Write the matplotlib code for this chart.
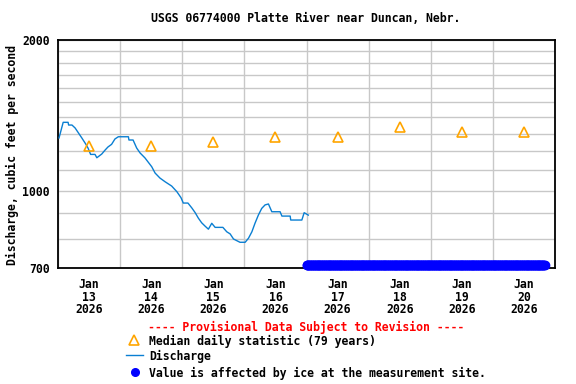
"""
Streamflow plot for USGS 06774000 Platte River near Duncan, Nebr.
"""

import numpy as np
import matplotlib
matplotlib.use("Agg")
import matplotlib.pyplot as plt
from matplotlib.lines import Line2D
from matplotlib.ticker import FixedLocator, NullFormatter

# hours since Jan 13 2026 00:00
discharge_hours = [0.4, 2.0, 3.9, 4.1, 5.4, 6.6, 9.2, 10.7, 11.6, 12.6, 14.3, 15.0,
                   16.9, 18.2, 19.3, 20.7, 22.0, 23.3, 27.2, 27.4, 29.0, 30.4, 31.7,
                   33.6, 36.2, 37.5, 39.4, 41.4, 43.9, 45.9, 47.5, 48.4, 50.2, 51.7,
                   53.0, 54.2, 55.5, 56.8, 58.1, 59.4, 60.7, 63.7, 65.2, 66.5, 67.8,
                   70.3, 72.3, 73.6, 74.9, 76.1, 77.4, 78.7, 80.0, 81.3, 82.6, 85.8,
                   86.5, 89.7, 89.9, 94.2, 95.1, 96.7]
discharge_cfs = [1274, 1369, 1369, 1352, 1352, 1334, 1274, 1239, 1216, 1181, 1181, 1163,
                 1183, 1205, 1222, 1237, 1268, 1281, 1281, 1262, 1262, 1216, 1189,
                 1162, 1116, 1084, 1059, 1041, 1021, 995, 968, 944, 944, 923,
                 903, 881, 862, 849, 837, 860, 844, 844, 827, 819, 800,
                 788, 788, 803, 827, 860, 893, 921, 936, 940, 907, 907,
                 889, 889, 873, 873, 903, 893]

# median daily statistic, plotted at noon of each day
median_days = [0, 1, 2, 3, 4, 5, 6, 7]
median_cfs = [1230, 1230, 1250, 1280, 1280, 1337, 1310, 1310]

day_labels = ["Jan\n13\n2026", "Jan\n14\n2026", "Jan\n15\n2026", "Jan\n16\n2026",
              "Jan\n17\n2026", "Jan\n18\n2026", "Jan\n19\n2026", "Jan\n20\n2026"]

# ice-affected period (hours), recorded every 15 minutes
ice_start_hour = 96.0
ice_end_hour = 188.0
ice_plot_value = 710

ytick_major = [700, 1000, 2000]
ytick_minor = [800, 900, 1100, 1200, 1300, 1400, 1500, 1600, 1700, 1800, 1900]

FONT = {"family": "DejaVu Sans Mono", "weight": "bold", "size": 8.3}
LINE_BLUE = "#0a7fd2"
ORANGE = "#ffa500"
ICE_BLUE = "#0000ff"
GRID = "#c8c8c8"

fig = plt.figure(figsize=(5.76, 3.84), dpi=100)
ax = fig.add_axes([58 / 576, 1 - 268 / 384, 497 / 576, 228 / 384])

ax.set_yscale("log")
ax.set_ylim(700, 2000)
ax.set_xlim(0, 8)

ax.yaxis.set_major_locator(FixedLocator(ytick_major))
ax.yaxis.set_minor_locator(FixedLocator(ytick_minor))
ax.yaxis.set_minor_formatter(NullFormatter())
ax.set_yticklabels([str(v) for v in ytick_major], fontdict=FONT)

ax.xaxis.set_major_locator(FixedLocator(np.arange(0, 9)))
ax.xaxis.set_major_formatter(NullFormatter())
ax.set_xticks(np.array(median_days) + 0.5, minor=True)
ax.set_xticklabels(day_labels, minor=True, fontdict=FONT, linespacing=0.98)

ax.tick_params(axis="both", which="both", length=0)
ax.tick_params(axis="y", which="major", pad=6)
ax.tick_params(axis="x", which="minor", pad=7)

ax.grid(True, which="both", axis="y", color=GRID, linewidth=1.0)
ax.grid(True, which="major", axis="x", color=GRID, linewidth=1.0)
ax.set_axisbelow(True)

for spine in ax.spines.values():
    spine.set_color("black")
    spine.set_linewidth(1.3)

x_days = np.array(discharge_hours) / 24.0
ax.plot(x_days, discharge_cfs, color=LINE_BLUE, linewidth=1.0, zorder=3)

ax.plot(np.array(median_days) + 0.5, median_cfs, linestyle="none", marker="^",
        markersize=7.5, markerfacecolor="none", markeredgecolor=ORANGE,
        markeredgewidth=1.2, zorder=4)

ice_hours = np.arange(ice_start_hour, ice_end_hour + 0.01, 0.25)
ax.plot(ice_hours / 24.0, np.full(len(ice_hours), ice_plot_value), linestyle="none",
        marker="o", markersize=6, color=ICE_BLUE, clip_on=False, zorder=5)

fig.text(12 / 576, 1 - 155 / 384, "Discharge, cubic feet per second",
         rotation=90, ha="center", va="center", **FONT)
fig.text(306 / 576, 1 - 19 / 384, "USGS 06774000 Platte River near Duncan, Nebr.",
         ha="center", va="center", **FONT)

# legend block below the axes
fig.text(306 / 576, 1 - 327 / 384, "---- Provisional Data Subject to Revision ----",
         ha="center", va="center", color="red", **FONT)

legend_rows = [
    (341, "Median daily statistic (79 years)"),
    (356, "Discharge"),
    (373, "Value is affected by ice at the measurement site."),
]
text_x = 149 / 576
for y_px, label in legend_rows:
    fig.text(text_x, 1 - y_px / 384, label, ha="left", va="center", **FONT)

fig.add_artist(Line2D([134 / 576], [1 - 340 / 384], transform=fig.transFigure,
                      marker="^", markersize=7.5, markerfacecolor="none",
                      markeredgecolor=ORANGE, markeredgewidth=1.2, linestyle="none"))
fig.add_artist(Line2D([126 / 576, 143 / 576], [1 - 355 / 384, 1 - 355 / 384],
                      transform=fig.transFigure, color=LINE_BLUE, linewidth=1.0))
fig.add_artist(Line2D([135 / 576], [1 - 372 / 384], transform=fig.transFigure,
                      marker="o", markersize=5.5, color=ICE_BLUE, linestyle="none"))

fig.savefig("out.png", dpi=100)
